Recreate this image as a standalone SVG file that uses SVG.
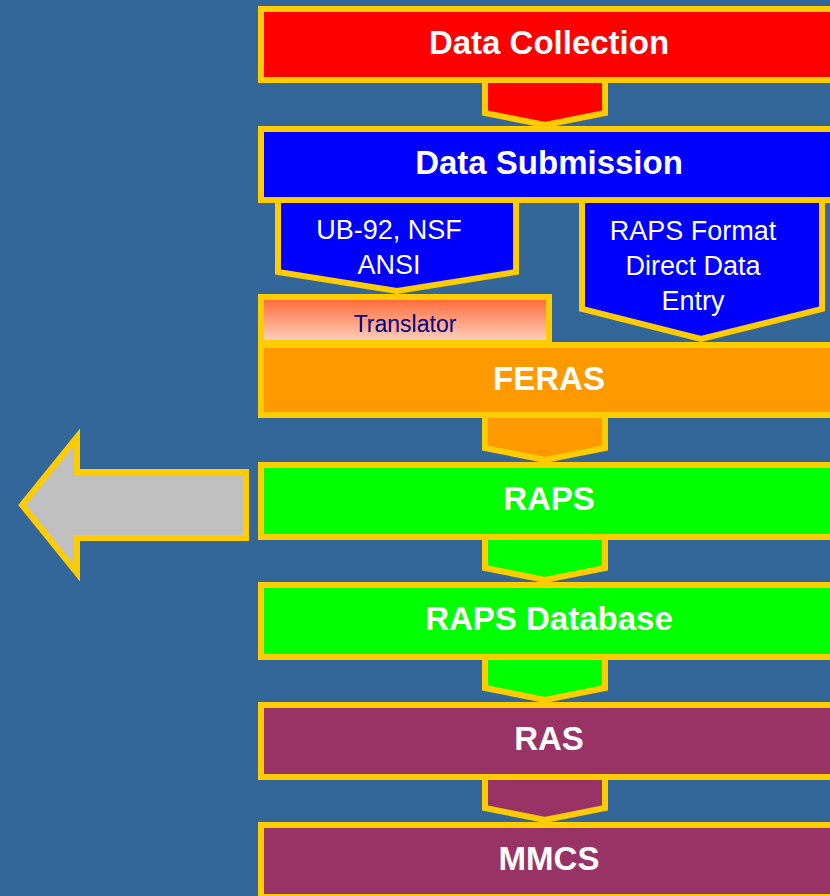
<svg xmlns="http://www.w3.org/2000/svg" width="830" height="896" viewBox="0 0 830 896">
<defs>
<linearGradient id="tg" x1="0" y1="0" x2="0" y2="1">
<stop offset="0" stop-color="#FF6633"/>
<stop offset="1" stop-color="#FFD5C5"/>
</linearGradient>
<style>
.bx{stroke:#FFCC00;stroke-width:6}
.t{font-family:"Liberation Sans",Arial,sans-serif;font-weight:bold;font-size:33px;fill:#FFFFFF;text-anchor:middle}
.s{font-family:"Liberation Sans",Arial,sans-serif;font-size:27px;fill:#FFFFFF;text-anchor:middle}
</style>
</defs>
<rect width="830" height="896" fill="#336699"/>
<g id="connectors">
<polygon class="bx" fill="#FF0000" points="485,75 605,75 605,113 545,125 485,113"/>
<polygon class="bx" fill="#0000FF" points="278,195 516,195 516,272 397,291 278,272"/>
<polygon class="bx" fill="#0000FF" points="582,195 822,195 822,309 701,339 582,309"/>
<polygon class="bx" fill="#FF9900" points="485,410 605,410 605,448 545,460 485,448"/>
<polygon class="bx" fill="#00FF00" points="485,530 605,530 605,568 545,580 485,568"/>
<polygon class="bx" fill="#00FF00" points="485,650 605,650 605,688 545,700 485,688"/>
<polygon class="bx" fill="#993366" points="485,770 605,770 605,808 545,820 485,808"/>
<polygon id="out-arrow" class="bx" fill="#C0C0C0" points="246,472 77,472 77,437 22,505 77,573 77,538 246,538"/>
</g>
<g id="data-collection">
<rect class="bx" x="261" y="9" width="600" height="71" fill="#FF0000"/>
<text class="t" x="549" y="54">Data Collection</text>
</g>
<g id="data-submission">
<rect class="bx" x="261" y="129" width="600" height="71" fill="#0000FF"/>
<text class="t" x="549" y="174">Data Submission</text>
</g>
<g id="ub92">
<text class="s" x="389" y="239">UB-92, NSF</text>
<text class="s" x="389" y="274">ANSI</text>
</g>
<g id="raps-format">
<text class="s" x="693" y="240">RAPS Format</text>
<text class="s" x="693" y="275">Direct Data</text>
<text class="s" x="693" y="310">Entry</text>
</g>
<g id="translator">
<rect class="bx" x="261" y="297" width="288" height="46" fill="url(#tg)"/>
<text x="405" y="332" font-family="'Liberation Sans',Arial,sans-serif" font-size="23" fill="#000080" text-anchor="middle">Translator</text>
</g>
<g id="feras">
<rect class="bx" x="261" y="345" width="600" height="70" fill="#FF9900"/>
<text class="t" x="549" y="390">FERAS</text>
</g>
<g id="raps">
<rect class="bx" x="261" y="465" width="600" height="72" fill="#00FF00"/>
<text class="t" x="549" y="510">RAPS</text>
</g>
<g id="raps-database">
<rect class="bx" x="261" y="585" width="600" height="72" fill="#00FF00"/>
<text class="t" x="549" y="630">RAPS Database</text>
</g>
<g id="ras">
<rect class="bx" x="261" y="705" width="600" height="72" fill="#993366"/>
<text class="t" x="549" y="750">RAS</text>
</g>
<g id="mmcs">
<rect class="bx" x="261" y="825" width="600" height="72" fill="#993366"/>
<text class="t" x="549" y="870">MMCS</text>
</g>
</svg>
